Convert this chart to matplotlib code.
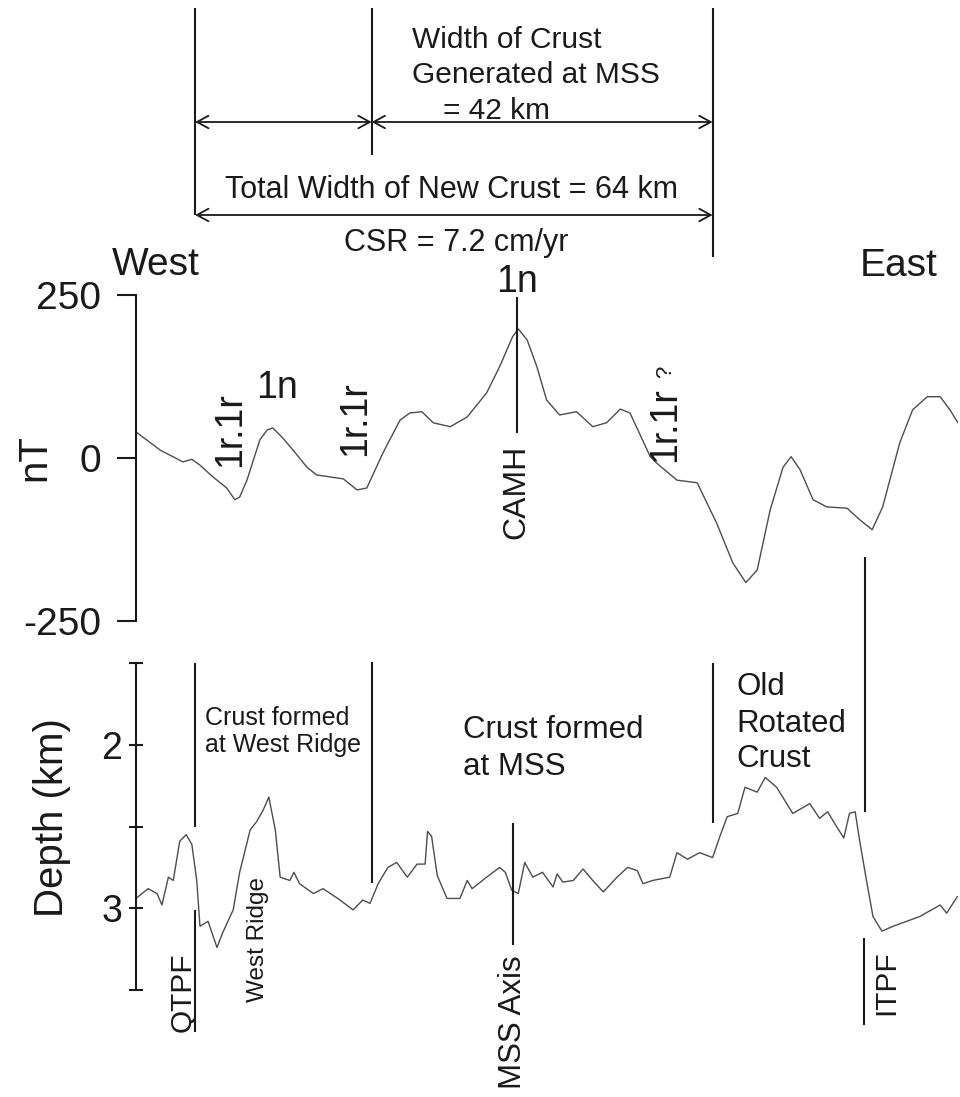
import matplotlib
matplotlib.use('Agg')
import matplotlib.pyplot as plt

plt.rcParams['font.family'] = ['Liberation Sans', 'DejaVu Sans']
plt.rcParams['axes.unicode_minus'] = False

# ---------------- data ----------------
mag_km = [0.0, 3.0, 5.8, 6.9, 7.9, 9.5, 11.2, 12.2, 12.8, 13.7,
          15.3, 16.2, 16.9, 18.1, 19.4, 21.1, 22.3, 25.6, 27.3, 28.5,
          30.5, 32.6, 33.8, 35.3, 36.7, 38.8, 40.9, 43.3, 44.9, 46.5,
          47.2, 48.3, 49.5, 50.7, 52.3, 54.4, 56.4, 58.1, 59.8, 61.0,
          63.5, 64.3, 66.8, 69.3, 71.7, 73.7, 75.3, 76.7, 78.3, 79.9,
          80.9, 82.0, 83.6, 85.3, 87.8, 89.4, 90.9, 92.2, 94.3, 95.9,
          97.7, 99.3, 100.5, 101.5]
mag_nT = [40, 12, -6, -2, -11, -29, -46, -64, -60, -34,
          28, 43, 46, 31, 12, -14, -26, -32, -49, -46,
          8, 58, 69, 71, 54, 48, 63, 100, 140, 186,
          198, 181, 140, 89, 66, 71, 48, 54, 75, 69,
          2, -8, -34, -38, -100, -161, -191, -172, -80, -14,
          2, -18, -64, -75, -77, -95, -110, -75, 23, 74,
          94, 94, 74, 54]

dep_km = [0.0, 1.5, 2.6, 3.2, 4.0, 4.6, 5.4, 6.2, 6.9, 7.5,
          7.9, 8.9, 10.0, 10.7, 12.0, 12.8, 14.1, 14.9, 15.7, 16.4,
          17.2, 17.8, 19.0, 19.5, 20.2, 21.9, 23.1, 25.2, 26.8, 28.0,
          28.9, 29.9, 31.1, 32.2, 33.5, 34.7, 35.7, 36.0, 36.5, 37.2,
          38.4, 40.0, 40.9, 41.5, 43.3, 44.9, 45.6, 46.4, 47.2, 48.0,
          49.0, 50.2, 51.5, 52.0, 52.7, 54.0, 55.2, 56.4, 57.7, 59.4,
          60.7, 61.9, 62.6, 63.8, 65.9, 66.8, 68.1, 69.6, 71.2, 72.1,
          73.0, 74.3, 75.2, 76.7, 77.7, 79.1, 81.1, 83.2, 84.4, 85.4,
          86.5, 87.4, 88.1, 88.8, 89.4, 90.2, 91.0, 92.1, 93.5, 96.8,
          99.3, 100.1, 101.4]
depth = [2.94, 2.88, 2.91, 2.98, 2.81, 2.83, 2.59, 2.55, 2.61, 2.83,
         3.11, 3.08, 3.24, 3.15, 3.01, 2.78, 2.52, 2.47, 2.40, 2.32,
         2.52, 2.81, 2.83, 2.78, 2.85, 2.91, 2.88, 2.95, 3.01, 2.95,
         2.97, 2.85, 2.75, 2.72, 2.81, 2.73, 2.73, 2.53, 2.56, 2.80,
         2.94, 2.94, 2.83, 2.88, 2.81, 2.75, 2.78, 2.89, 2.91, 2.72,
         2.81, 2.78, 2.87, 2.79, 2.84, 2.83, 2.76, 2.83, 2.90, 2.81,
         2.75, 2.77, 2.85, 2.83, 2.81, 2.66, 2.70, 2.66, 2.69, 2.56,
         2.44, 2.42, 2.26, 2.29, 2.20, 2.26, 2.42, 2.36, 2.45, 2.41,
         2.50, 2.57, 2.42, 2.41, 2.60, 2.83, 3.05, 3.14, 3.11, 3.05,
         2.98, 3.03, 2.93]

mag_ticks = [-250, 0, 250]
mag_tick_labels = ['-250', '0', '250']
dep_ticks = [1.5, 2.0, 2.5, 3.0, 3.5]
dep_tick_labels = ['', '2', '', '3', '']

# boundary positions (km along profile)
x_qtpf = 7.3
x_wr_end = 29.1
x_camh = 47.0
x_mss = 46.5
x_mss_end = 71.2
x_itpf = 90.0

XMIN, XMAX = 0.0, 101.5

# ---------------- figure ----------------
W, H = 960, 1097
fig = plt.figure(figsize=(W / 100, H / 100), dpi=100)
L, R = 136, 958
ink = '#1a1a1a'
curve = '#4d4d4d'

# magnetic panel
ax_m = fig.add_axes([L / W, 1 - 621 / H, (R - L) / W, 326 / H])
ax_m.plot(mag_km, mag_nT, color=curve, lw=1.0)
ax_m.set_xlim(XMIN, XMAX)
ax_m.set_ylim(-250, 250)
ax_m.set_yticks(mag_ticks)
ax_m.set_yticklabels(mag_tick_labels)
ax_m.tick_params(axis='y', direction='out', length=14, width=1.5, pad=11,
                 labelsize=28, colors=ink)
ax_m.set_xticks([])
for s in ['top', 'right', 'bottom']:
    ax_m.spines[s].set_visible(False)
ax_m.spines['left'].set_linewidth(1.5)
ax_m.spines['left'].set_color(ink)
ax_m.patch.set_visible(False)
ax_m.set_ylabel('nT', fontsize=29, color=ink, va='center')
ax_m.yaxis.set_label_coords((34 - L) / (R - L), 0.5)

# depth panel
ax_d = fig.add_axes([L / W, 1 - 990 / H, (R - L) / W, 327 / H])
ax_d.plot(dep_km, depth, color=curve, lw=1.0)
ax_d.set_xlim(XMIN, XMAX)
ax_d.set_ylim(3.5, 1.5)
ax_d.set_yticks(dep_ticks)
ax_d.set_yticklabels(dep_tick_labels)
ax_d.tick_params(axis='y', direction='inout', length=10, width=1.5, pad=5,
                 labelsize=27, colors=ink)
ax_d.set_xticks([])
for s in ['top', 'right', 'bottom']:
    ax_d.spines[s].set_visible(False)
ax_d.spines['left'].set_linewidth(1.5)
ax_d.spines['left'].set_color(ink)
ax_d.patch.set_visible(False)
ax_d.set_ylabel('Depth (km)', fontsize=29, color=ink, va='center')
ax_d.yaxis.set_label_coords((52 - L) / (R - L), 1 - (818 - 663) / 327)

# overlay for annotations: x in km, y in pixels from top
ax_o = fig.add_axes([L / W, 0, (R - L) / W, 1])
ax_o.set_xlim(XMIN, XMAX)
ax_o.set_ylim(H, 0)
ax_o.axis('off')
ax_o.patch.set_visible(False)

def vline(x, y0, y1):
    ax_o.plot([x, x], [y0, y1], color=ink, lw=1.5, solid_capstyle='butt')

vline(x_qtpf, 8, 215)
vline(x_wr_end, 8, 155)
vline(x_mss_end, 8, 257)
vline(x_camh, 297, 433)
vline(x_qtpf, 663, 827)
vline(x_qtpf, 910, 1032)
vline(x_wr_end, 662, 883)
vline(x_mss, 823, 945)
vline(x_mss_end, 663, 823)
vline(x_itpf, 557, 812)
vline(x_itpf - 0.1, 938, 1025)

def darrow(x0, x1, y):
    ax_o.annotate('', xy=(x1, y), xytext=(x0, y),
                  arrowprops=dict(arrowstyle='<->, head_length=0.55, head_width=0.3',
                                  lw=1.3, color=ink, shrinkA=0, shrinkB=0,
                                  mutation_scale=15))

darrow(x_qtpf, x_wr_end, 122)
darrow(x_wr_end, x_mss_end, 122)
darrow(x_qtpf, x_mss_end, 215)

def t(x, y, s, size, **kw):
    kw.setdefault('ha', 'left')
    kw.setdefault('va', 'baseline')
    ax_o.text(x, y, s, fontsize=size, color=ink, **kw)

t(34.1, 48, 'Width of Crust', 21.5)
t(34.1, 83, 'Generated at MSS', 21.5)
t(37.9, 119, '= 42 km', 21.5)
t(39.0, 198, 'Total Width of New Crust = 64 km', 22, ha='center')
t(39.6, 251, 'CSR = 7.2 cm/yr', 22, ha='center')
t(7.9, 275, 'West', 28, ha='right')
t(94.2, 276, 'East', 28, ha='center')

# magnetic anomaly labels
t(x_camh, 282, '1n', 27, ha='center', va='center')
t(17.4, 388, '1n', 27, ha='center', va='center')
t(11.6, 430, '1r.1r', 27, ha='center', va='center', rotation=90)
t(27.0, 419, '1r.1r', 27, ha='center', va='center', rotation=90)
t(65.3, 425, '1r.1r', 27, ha='center', va='center', rotation=90)
t(65.4, 372, '?', 16, ha='center', va='center', rotation=90)
t(x_camh, 492, 'CAMH', 23, ha='center', va='center', rotation=90)

# depth labels
t(8.5, 725, 'Crust formed', 18)
t(8.5, 752, 'at West Ridge', 18)
t(40.4, 738, 'Crust formed', 22.5)
t(40.4, 775, 'at MSS', 22.5)
t(74.1, 695, 'Old', 22.5)
t(74.1, 732, 'Rotated', 22.5)
t(74.1, 767, 'Crust', 22.5)
t(x_mss, 1022, 'MSS Axis', 22.5, ha='center', va='center', rotation=90)
t(15.1, 940, 'West Ridge', 17.5, ha='center', va='center', rotation=90)
t(5.7, 992, 'QTPF', 21.5, ha='center', va='center', rotation=90)
t(92.6, 983, 'ITPF', 21.5, ha='center', va='center', rotation=90)

fig.savefig('out.png', dpi=100, facecolor='white')
